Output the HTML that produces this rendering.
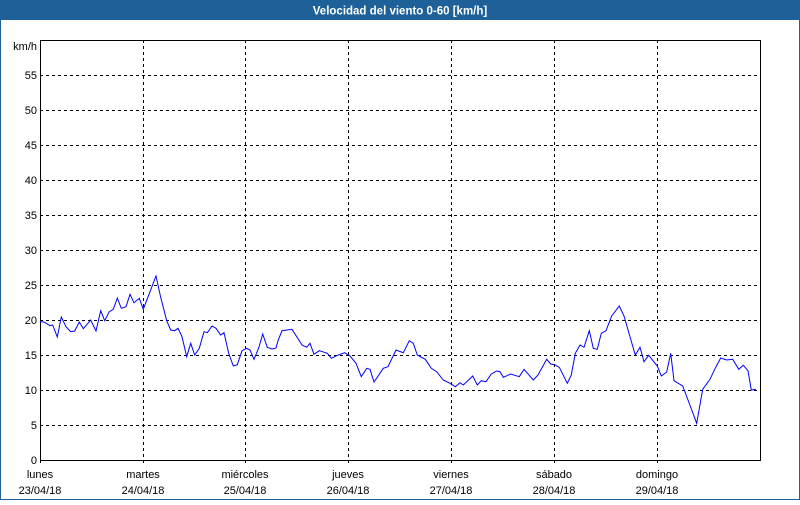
<!DOCTYPE html>
<html><head><meta charset="utf-8"><style>
html,body{margin:0;padding:0;background:#fff}
</style></head><body>
<svg width="800" height="500" xmlns="http://www.w3.org/2000/svg" font-family="Liberation Sans, sans-serif" font-size="11">
<rect x="0" y="0" width="800" height="500" fill="#fff"/>
<rect x="0.5" y="0.5" width="799" height="499" fill="none" stroke="#1e6198"/>
<rect x="0" y="0" width="800" height="20" fill="#1e6198"/>
<text x="400" y="14.5" fill="#fff" font-weight="bold" font-size="11.5" text-anchor="middle">Velocidad del viento 0-60 [km/h]</text>
<g stroke="#000" stroke-dasharray="3,3" stroke-width="1">
<line x1="40" y1="75.5" x2="760" y2="75.5"/><line x1="40" y1="110.5" x2="760" y2="110.5"/>
<line x1="40" y1="145.5" x2="760" y2="145.5"/><line x1="40" y1="180.5" x2="760" y2="180.5"/>
<line x1="40" y1="215.5" x2="760" y2="215.5"/><line x1="40" y1="250.5" x2="760" y2="250.5"/>
<line x1="40" y1="285.5" x2="760" y2="285.5"/><line x1="40" y1="320.5" x2="760" y2="320.5"/>
<line x1="40" y1="355.5" x2="760" y2="355.5"/><line x1="40" y1="390.5" x2="760" y2="390.5"/>
<line x1="40" y1="425.5" x2="760" y2="425.5"/>
<line x1="143.5" y1="40" x2="143.5" y2="466"/><line x1="245.5" y1="40" x2="245.5" y2="466"/>
<line x1="348.5" y1="40" x2="348.5" y2="466"/><line x1="451.5" y1="40" x2="451.5" y2="466"/>
<line x1="554.5" y1="40" x2="554.5" y2="466"/><line x1="657.5" y1="40" x2="657.5" y2="466"/>
<line x1="40.5" y1="460" x2="40.5" y2="466"/>
</g>
<rect x="40.5" y="40.5" width="720" height="420" fill="none" stroke="#000"/>
<g text-anchor="end" fill="#000">
<text x="37" y="50">km/h</text>
<text x="37" y="79">55</text><text x="37" y="114">50</text><text x="37" y="149">45</text>
<text x="37" y="184">40</text><text x="37" y="219">35</text><text x="37" y="254">30</text>
<text x="37" y="289">25</text><text x="37" y="324">20</text><text x="37" y="359">15</text>
<text x="37" y="394">10</text><text x="37" y="429">5</text><text x="37" y="464">0</text>
</g>
<g text-anchor="middle" fill="#000">
<text x="40" y="478">lunes</text><text x="40" y="494">23/04/18</text>
<text x="143" y="478">martes</text><text x="143" y="494">24/04/18</text>
<text x="245" y="478">miércoles</text><text x="245" y="494">25/04/18</text>
<text x="348" y="478">jueves</text><text x="348" y="494">26/04/18</text>
<text x="451" y="478">viernes</text><text x="451" y="494">27/04/18</text>
<text x="554" y="478">sábado</text><text x="554" y="494">28/04/18</text>
<text x="657" y="478">domingo</text><text x="657" y="494">29/04/18</text>
</g>
<polyline fill="none" stroke="#0000ff" stroke-width="1" points="40,321.7 44,322 50,325.7 52.7,325 57.3,337 61.3,317 66,326.7 70.7,331.7 74.7,331 79.3,322 83.3,328.7 90.7,320 96,331 100.7,310.7 104.7,320.7 109.3,311.7 113.3,309.3 117.3,298 121.3,308.3 126,306.7 130,294.3 134,302.7 139.3,298.3 143.3,309.3 156,276 160.7,297.3 166.7,320.7 170.7,330 174.7,330.7 178,328.3 182,336.7 186.7,356.7 190.7,343.3 194.7,355 199.3,348.3 204,331.7 207.3,332.7 212,326 216,328.3 220.7,335 224,332.7 228.7,353.3 233.3,366 237.3,364.7 242,350.7 246.7,348.3 250,350 254,359.3 258.7,348 262.7,334 267.3,347.3 272,349 276,348 278,340.7 282,330.7 292,329.3 302,345 306.7,347.3 310,343.3 314,354.3 319.3,350.7 327.3,353.3 331.3,358.3 336.7,355.7 344.7,352.7 350,356 356,363.3 361.3,376.7 366.7,368.3 370,369.3 374,382 383.3,368.3 388,366.7 396,350 403.3,352.7 409.3,340.7 413.3,343.3 417.3,355 425.3,359.3 431.3,368.3 436.7,371.7 443.3,380 450,383.3 455.3,386.7 460,382.7 463.3,385 472.7,376 477.3,385 481.3,380.7 486,381.7 491.3,374 496.7,371 500,371.7 503.3,377.3 510.7,374 519.3,376.7 524,369.3 533.3,380 538,375 546.7,359.3 550.7,364 554.7,364.7 559.3,367.3 567.3,383.3 571.3,375 575.3,353.3 580,345 584,347.3 589.3,330.7 593.3,348.3 597.3,349.3 601.3,333.3 606,330.7 611.7,316 619.3,306 624,316 635.3,355 640,347.3 644,361.7 648.7,355.3 657.3,366 661.3,376 666.7,372 670.7,353.3 674,380.7 682.7,386 688,400 696.7,423.3 702.7,389.3 710,379.3 714.7,369.3 720.7,358 726.7,360 732.7,359.3 738.7,369.3 743.3,365.3 748,370.7 751.3,390 756,389.3"/>
</svg>
</body></html>
